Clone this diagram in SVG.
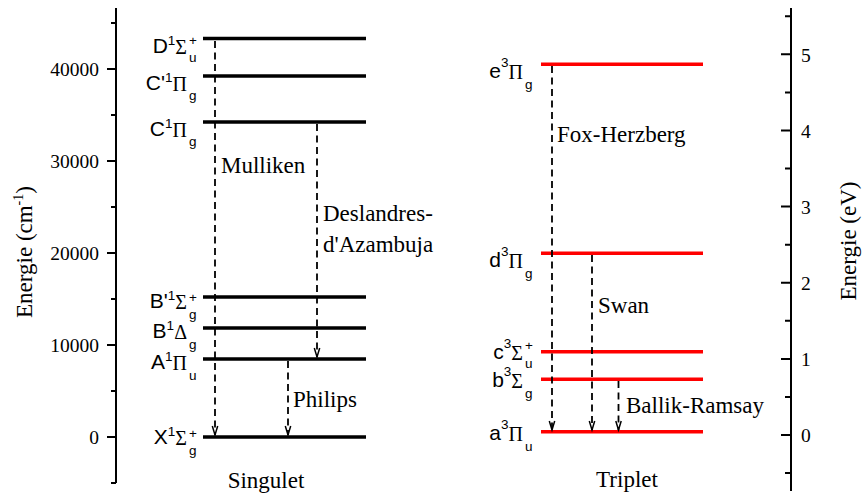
<svg xmlns="http://www.w3.org/2000/svg" width="864" height="495" viewBox="0 0 864 495">
<style>
.ax{stroke:#000;stroke-width:2;fill:none}
.tk{font-family:"Liberation Serif","Times New Roman",serif;font-size:19.5px;fill:#000}
.lvS{stroke:#000;stroke-width:3.5}
.lvT{stroke:#f00;stroke-width:3.5}
.tr{stroke:#000;stroke-width:1.8;stroke-dasharray:7 4.5;fill:none;marker-end:url(#ah)}
.lab{font-family:"Liberation Serif","Times New Roman",serif;font-size:23px;fill:#000}
.st{font-family:"Liberation Sans",Arial,sans-serif;font-size:21px;fill:#000}
.gr{font-family:"Liberation Serif","Times New Roman",serif;font-size:20px}
.sm{font-size:13.5px}
</style>
<defs>
<marker id="ah" markerUnits="userSpaceOnUse" markerWidth="12" markerHeight="8" refX="0" refY="0" orient="auto" overflow="visible">
<path d="M-9,-2.7 L0,0 L-9,2.7" fill="none" stroke="#000" stroke-width="1.5" stroke-dasharray="none"/>
</marker>
</defs>

<g id="axis-left">
<path class="ax" d="M116,8 V483 M107,437 H116 M107,345 H116 M107,253 H116 M107,161 H116 M107,69 H116 M111,483 H116 M111,391 H116 M111,299 H116 M111,207 H116 M111,115 H116 M111,23 H116"/>
<text class="tk" x="99" y="76" text-anchor="end">40000</text>
<text class="tk" x="99" y="168" text-anchor="end">30000</text>
<text class="tk" x="99" y="260" text-anchor="end">20000</text>
<text class="tk" x="99" y="352" text-anchor="end">10000</text>
<text class="tk" x="99" y="444" text-anchor="end">0</text>
<text class="lab" transform="translate(32,252) rotate(-90)" text-anchor="middle">Energie (cm<tspan font-size="14" dy="-9">-1</tspan><tspan dy="9">)</tspan></text>
</g>

<g id="axis-right">
<path class="ax" d="M791,8 V491 M781,435 H791 M781,358.9 H791 M781,282.7 H791 M781,206.6 H791 M781,130.4 H791 M781,54.3 H791 M785,473 H791 M785,397 H791 M785,320.8 H791 M785,244.7 H791 M785,168.5 H791 M785,92.4 H791 M785,16.2 H791"/>
<text class="tk" x="801" y="442">0</text>
<text class="tk" x="801" y="366">1</text>
<text class="tk" x="801" y="290">2</text>
<text class="tk" x="801" y="214">3</text>
<text class="tk" x="801" y="137.5">4</text>
<text class="tk" x="801" y="61.5">5</text>
<text class="lab" transform="translate(856,241) rotate(-90)" text-anchor="middle">Energie (eV)</text>
</g>

<g id="level-D">
<line class="lvS" x1="203" y1="38.5" x2="366" y2="38.5"/>
<text class="st" x="187" y="52.5" text-anchor="end">D<tspan class="sm" dy="-8">1</tspan><tspan class="gr" dy="9">Σ</tspan></text>
<text class="st sm" x="189" y="62">u</text>
<text class="st sm" x="189" y="45">+</text>
</g>
<g id="level-Cp">
<line class="lvS" x1="203" y1="76" x2="366" y2="76"/>
<text class="st" x="187" y="90" text-anchor="end">C'<tspan class="sm" dy="-8">1</tspan><tspan class="gr" dy="9">Π</tspan></text>
<text class="st sm" x="189" y="99.5">g</text>
</g>
<g id="level-C">
<line class="lvS" x1="203" y1="122" x2="366" y2="122"/>
<text class="st" x="187" y="136" text-anchor="end">C<tspan class="sm" dy="-8">1</tspan><tspan class="gr" dy="9">Π</tspan></text>
<text class="st sm" x="189" y="145.5">g</text>
</g>
<g id="level-Bp">
<line class="lvS" x1="203" y1="297" x2="366" y2="297"/>
<text class="st" x="187" y="308" text-anchor="end">B'<tspan class="sm" dy="-8">1</tspan><tspan class="gr" dy="9">Σ</tspan></text>
<text class="st sm" x="189" y="319">g</text>
<text class="st sm" x="189" y="301.5">+</text>
</g>
<g id="level-B">
<line class="lvS" x1="203" y1="328" x2="366" y2="328"/>
<text class="st" x="187" y="338" text-anchor="end">B<tspan class="sm" dy="-8">1</tspan><tspan class="gr" dy="9">Δ</tspan></text>
<text class="st sm" x="189" y="349">g</text>
</g>
<g id="level-A">
<line class="lvS" x1="203" y1="359" x2="366" y2="359"/>
<text class="st" x="187" y="369" text-anchor="end">A<tspan class="sm" dy="-8">1</tspan><tspan class="gr" dy="9">Π</tspan></text>
<text class="st sm" x="189" y="380">u</text>
</g>
<g id="level-X">
<line class="lvS" x1="203" y1="437" x2="366" y2="437"/>
<text class="st" x="187" y="444" text-anchor="end">X<tspan class="sm" dy="-8">1</tspan><tspan class="gr" dy="9">Σ</tspan></text>
<text class="st sm" x="189" y="455">g</text>
<text class="st sm" x="189" y="437.5">+</text>
</g>

<g id="level-e">
<line class="lvT" x1="541" y1="64.3" x2="703" y2="64.3"/>
<text class="st" x="523" y="78" text-anchor="end">e<tspan class="sm" dy="-11.5">3</tspan><tspan class="gr" dy="12.5">Π</tspan></text>
<text class="st sm" x="525" y="88.5">g</text>
</g>
<g id="level-d">
<line class="lvT" x1="541" y1="253.3" x2="703" y2="253.3"/>
<text class="st" x="523" y="267" text-anchor="end">d<tspan class="sm" dy="-11.5">3</tspan><tspan class="gr" dy="12.5">Π</tspan></text>
<text class="st sm" x="525" y="277.5">g</text>
</g>
<g id="level-c">
<line class="lvT" x1="541" y1="351.7" x2="703" y2="351.7"/>
<text class="st" x="523" y="359" text-anchor="end">c<tspan class="sm" dy="-11.5">3</tspan><tspan class="gr" dy="12.5">Σ</tspan></text>
<text class="st sm" x="525" y="368">u</text>
<text class="st sm" x="525" y="350">+</text>
</g>
<g id="level-b">
<line class="lvT" x1="541" y1="379.3" x2="703" y2="379.3"/>
<text class="st" x="523" y="387" text-anchor="end">b<tspan class="sm" dy="-11.5">3</tspan><tspan class="gr" dy="12.5">Σ</tspan></text>
<text class="st sm" x="525" y="398">g</text>
</g>
<g id="level-a">
<line class="lvT" x1="541" y1="431.7" x2="703" y2="431.7"/>
<text class="st" x="523" y="440" text-anchor="end">a<tspan class="sm" dy="-11.5">3</tspan><tspan class="gr" dy="12.5">Π</tspan></text>
<text class="st sm" x="525" y="450.5">u</text>
</g>

<g id="connectors">
<line class="tr" x1="215" y1="41" x2="215" y2="435"/>
<line class="tr" x1="317" y1="124" x2="317" y2="357"/>
<line class="tr" x1="288" y1="361" x2="288" y2="435"/>
<line class="tr" x1="552" y1="66" x2="552" y2="430"/>
<line class="tr" x1="592" y1="255" x2="592" y2="430"/>
<line class="tr" x1="618.5" y1="381" x2="618.5" y2="430"/>
<text class="lab" x="221" y="173">Mulliken</text>
<text class="lab" x="323" y="221">Deslandres-</text>
<text class="lab" x="323" y="252">d'Azambuja</text>
<text class="lab" x="293" y="407">Philips</text>
<text class="lab" x="557" y="142">Fox-Herzberg</text>
<text class="lab" x="598" y="313">Swan</text>
<text class="lab" x="626" y="413">Ballik-Ramsay</text>
</g>

<text class="lab" x="266" y="488" text-anchor="middle">Singulet</text>
<text class="lab" x="627" y="487" text-anchor="middle">Triplet</text>
</svg>
